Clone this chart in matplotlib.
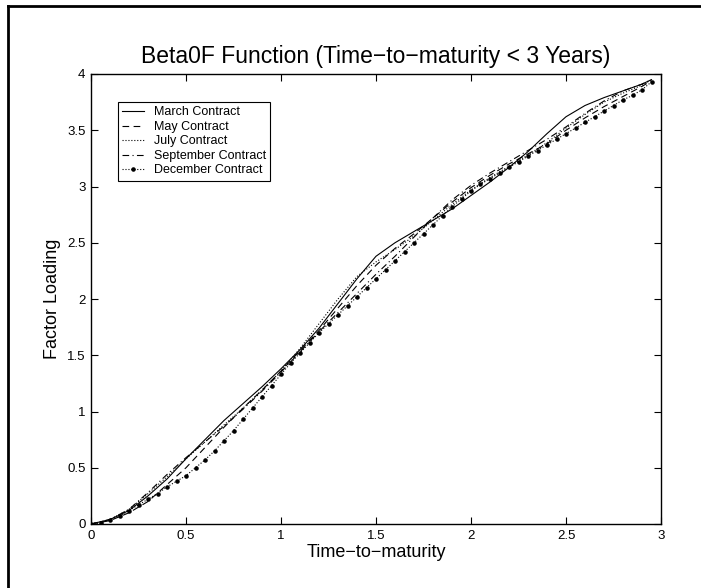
import matplotlib
matplotlib.use("Agg")
import matplotlib.pyplot as plt
from matplotlib.lines import Line2D

# ── Data ──────────────────────────────────────────────────────────────────────
x_coarse = [0.0, 0.1, 0.2, 0.3, 0.4, 0.5, 0.6, 0.7, 0.8, 0.9, 1.0, 1.1, 1.2, 1.3,
            1.4, 1.5, 1.6, 1.7, 1.8, 1.9, 2.0, 2.1, 2.2, 2.3, 2.4, 2.5, 2.6, 2.7,
            2.8, 2.9, 2.95]

march = [0.00, 0.04, 0.12, 0.25, 0.40, 0.58, 0.75, 0.92, 1.07, 1.22, 1.38, 1.55,
         1.74, 1.96, 2.18, 2.38, 2.50, 2.60, 2.70, 2.80, 2.92, 3.04, 3.17, 3.31,
         3.47, 3.62, 3.72, 3.79, 3.85, 3.91, 3.95]
may = [0.00, 0.03, 0.10, 0.20, 0.35, 0.50, 0.68, 0.86, 1.03, 1.19, 1.36, 1.54,
       1.72, 1.92, 2.12, 2.30, 2.45, 2.58, 2.72, 2.86, 2.99, 3.10, 3.20, 3.29,
       3.38, 3.50, 3.61, 3.71, 3.80, 3.89, 3.94]
july = [0.00, 0.04, 0.13, 0.27, 0.42, 0.58, 0.73, 0.88, 1.03, 1.19, 1.36, 1.56,
        1.78, 2.00, 2.20, 2.33, 2.44, 2.56, 2.70, 2.84, 2.97, 3.08, 3.18, 3.28,
        3.39, 3.52, 3.64, 3.75, 3.83, 3.90, 3.95]
september = [0.00, 0.04, 0.13, 0.28, 0.44, 0.59, 0.73, 0.87, 1.02, 1.18, 1.35, 1.53,
             1.71, 1.88, 2.05, 2.22, 2.38, 2.55, 2.72, 2.88, 3.01, 3.12, 3.22, 3.32,
             3.42, 3.53, 3.65, 3.76, 3.85, 3.91, 3.95]

x_fine = [0.00, 0.05, 0.10, 0.15, 0.20, 0.25, 0.30, 0.35, 0.40, 0.45, 0.50, 0.55,
          0.60, 0.65, 0.70, 0.75, 0.80, 0.85, 0.90, 0.95, 1.00, 1.05, 1.10, 1.15,
          1.20, 1.25, 1.30, 1.35, 1.40, 1.45, 1.50, 1.55, 1.60, 1.65, 1.70, 1.75,
          1.80, 1.85, 1.90, 1.95, 2.00, 2.05, 2.10, 2.15, 2.20, 2.25, 2.30, 2.35,
          2.40, 2.45, 2.50, 2.55, 2.60, 2.65, 2.70, 2.75, 2.80, 2.85, 2.90, 2.95]
december = [0.00, 0.01, 0.04, 0.07, 0.12, 0.17, 0.22, 0.27, 0.33, 0.38, 0.43, 0.50,
            0.57, 0.65, 0.74, 0.83, 0.93, 1.03, 1.13, 1.23, 1.33, 1.43, 1.52, 1.61,
            1.70, 1.78, 1.86, 1.94, 2.02, 2.10, 2.18, 2.26, 2.34, 2.42, 2.50, 2.58,
            2.66, 2.74, 2.82, 2.89, 2.96, 3.02, 3.07, 3.12, 3.17, 3.22, 3.27, 3.32,
            3.37, 3.42, 3.47, 3.52, 3.57, 3.62, 3.67, 3.72, 3.77, 3.81, 3.86, 3.93]

x_ticks = [0, 0.5, 1, 1.5, 2, 2.5, 3]
y_ticks = [0, 0.5, 1, 1.5, 2, 2.5, 3, 3.5, 4]

# ── Figure ────────────────────────────────────────────────────────────────────
plt.rcParams.update({
    "font.family": ["Liberation Sans", "DejaVu Sans"],
    "axes.linewidth": 1.0,
    "xtick.direction": "in",
    "ytick.direction": "in",
    "xtick.top": True,
    "ytick.right": True,
})

fig = plt.figure(figsize=(7.01, 5.88), dpi=100)
ax = fig.add_axes([91 / 701, 1 - 524 / 588, 570 / 701, 450 / 588])

# outer frame edges (top and left) of the original screenshot
fig.add_artist(Line2D([8 / 701, 8 / 701], [0, 1 - 6 / 588], color="black", lw=2,
                      transform=fig.transFigure))
fig.add_artist(Line2D([8 / 701, 1], [1 - 6 / 588, 1 - 6 / 588], color="black", lw=2,
                      transform=fig.transFigure))

ax.plot(x_coarse, march, "-", color="black", lw=0.8, label="March Contract")
ax.plot(x_coarse, may, "--", color="black", lw=0.8, dashes=(6, 4), label="May Contract")
ax.plot(x_coarse, july, ":", color="black", lw=0.8, label="July Contract")
ax.plot(x_coarse, september, "-.", color="black", lw=0.8, dashes=(6, 3, 1, 3),
        label="September Contract")
ax.plot(x_fine, december, ":", color="black", lw=0.8, marker=".", markersize=4.5,
        label="December Contract")

ax.set_xlim(0, 3)
ax.set_ylim(0, 4)
ax.set_xticks(x_ticks)
ax.set_yticks(y_ticks)
ax.set_xticklabels([f"{t:g}" for t in x_ticks])
ax.set_yticklabels([f"{t:g}" for t in y_ticks])
ax.tick_params(labelsize=9.5, length=5, width=0.8, pad=4)

ax.set_title("Beta0F Function (Time\u2212to\u2212maturity < 3 Years)", fontsize=16.5, pad=8)
ax.set_xlabel("Time\u2212to\u2212maturity", fontsize=13, labelpad=2)
ax.set_ylabel("Factor Loading", fontsize=13, labelpad=4)

leg = ax.legend(loc="upper left", bbox_to_anchor=(27 / 570, (524 - 102) / 450),
                fontsize=9, numpoints=1, frameon=True, fancybox=False,
                edgecolor="black", framealpha=1, handlelength=1.7,
                handletextpad=0.8, borderpad=0.35, labelspacing=0.2,
                borderaxespad=0)
leg.get_frame().set_linewidth(0.8)

fig.savefig("out.png", dpi=100)
